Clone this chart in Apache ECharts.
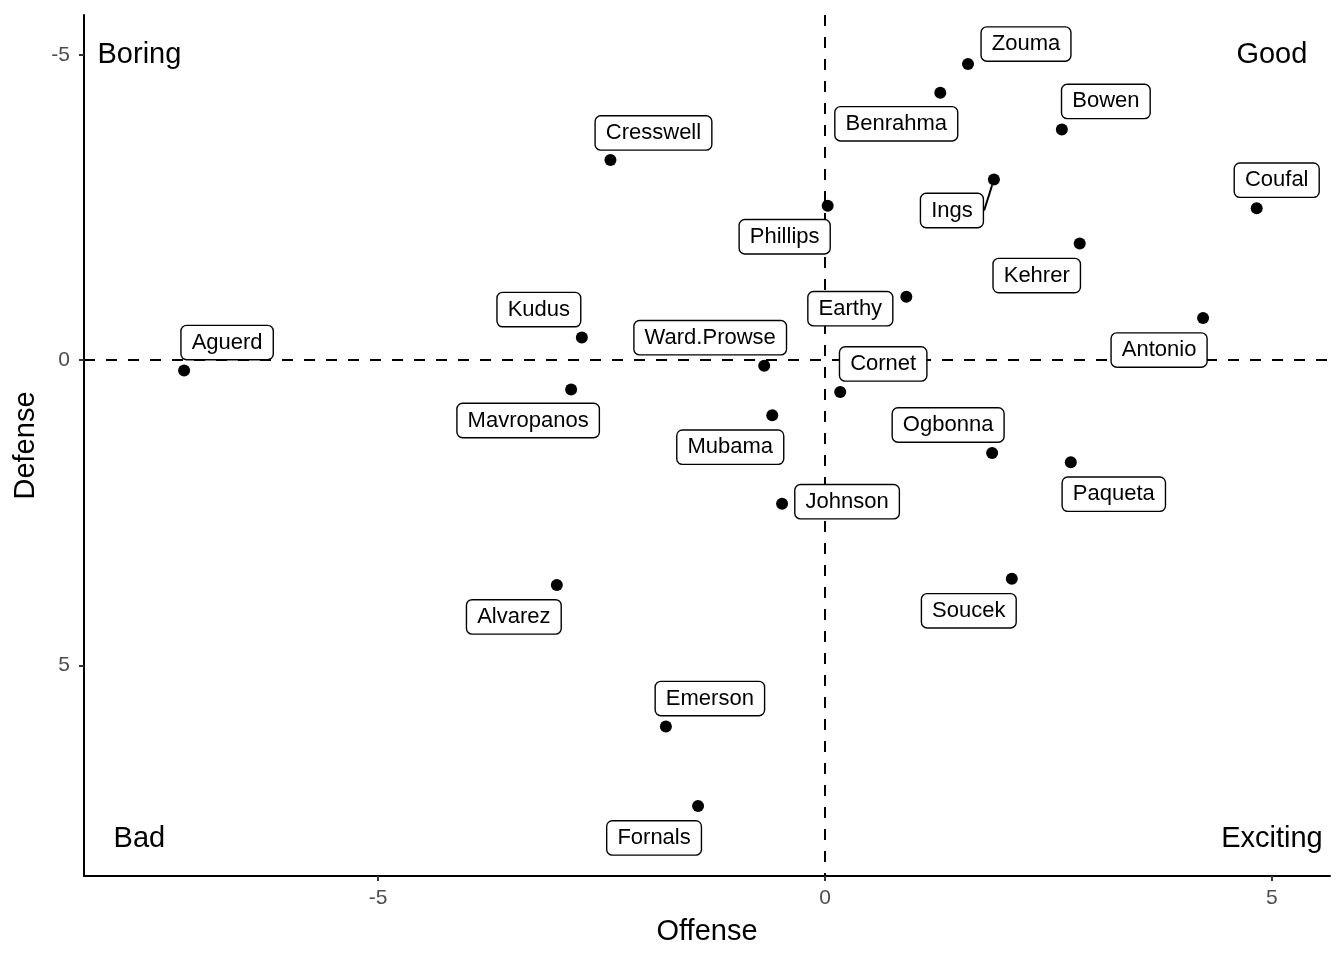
<!DOCTYPE html>
<html><head><meta charset="utf-8">
<script src="https://cdn.jsdelivr.net/npm/echarts@6/dist/echarts.min.js"></script>
<style>html,body{margin:0;padding:0;background:#fff}#c{width:1344px;height:960px}</style>
</head><body><div id="c"></div>
<script>
// ---- data ----
const players = ['Zouma','Benrahma','Bowen','Cresswell','Ings','Phillips','Coufal','Kehrer','Earthy','Antonio','Kudus','Aguerd','Ward.Prowse','Mavropanos','Cornet','Mubama','Ogbonna','Paqueta','Johnson','Alvarez','Soucek','Emerson','Fornals'];
const offense = [1.60, 1.29, 2.65, -2.40, 1.89, 0.03, 4.83, 2.85, 0.91, 4.23, -2.72, -7.17, -0.68, -2.84, 0.17, -0.59, 1.87, 2.75, -0.48, -3.00, 2.09, -1.78, -1.42];
const defense = [-4.85, -4.38, -3.78, -3.28, -2.96, -2.53, -2.49, -1.91, -1.04, -0.69, -0.37, 0.17, 0.09, 0.48, 0.52, 0.90, 1.52, 1.67, 2.35, 3.68, 3.58, 6.00, 7.30];
const quadrantLabels = ['Boring', 'Good', 'Bad', 'Exciting'];
const quadrantOffense = [-7.67, 5, -7.67, 5];
const quadrantDefense = [-5, -5, 7.85, 7.85];
const tickValues = [-5, 0, 5];

// ---- label placement (pixel shifts from the point, layout only) ----
const labelShift = [[58,-20],[-44,31],[44,-28],[43,-27],[-42,31],[-43,31],[20,-28],[-43,32],[-56,12],[-44,32],[-43,-28],[43,-28],[-54,-28],[-43,31],[43,-28],[-42,32],[-44,-28],[43,32],[65,-2],[-43,32],[-43,32],[44,-28],[-44,32]];
const guideLine = ['Ings'];

const FONT = 'Liberation Sans, Arial, Helvetica, sans-serif';
const chart = echarts.init(document.getElementById('c'), null, {renderer: 'canvas'});

const pointData = players.map((p, i) => {
  const item = {name: p, value: [offense[i], defense[i]]};
  if (guideLine.includes(p)) item.labelLine = {show: true, lineStyle: {color: '#000', width: 2}};
  return item;
});
const quadData = quadrantLabels.map((q, i) => ({name: q, value: [quadrantOffense[i], quadrantDefense[i]]}));

const axisCommon = {
  type: 'value',
  splitLine: {show: false},
  axisLine: {show: true, onZero: false, lineStyle: {color: '#000', width: 2}},
  axisTick: {show: true, customValues: tickValues, length: 5, lineStyle: {color: '#333', width: 2}},
  axisLabel: {customValues: tickValues, color: '#4d4d4d', fontSize: 21, fontFamily: FONT},
  nameLocation: 'middle',
  nameTextStyle: {color: '#000', fontSize: 29, fontFamily: FONT}
};

chart.setOption({
  animation: false,
  backgroundColor: '#fff',
  grid: {left: 84, right: 14, top: 15, bottom: 84, containLabel: false},
  xAxis: Object.assign({}, axisCommon, {
    name: 'Offense', nameGap: 41, min: -8.29, max: 5.65,
    axisLabel: Object.assign({}, axisCommon.axisLabel, {margin: 12})
  }),
  yAxis: Object.assign({}, axisCommon, {
    name: 'Defense', nameGap: 42, inverse: true, min: -5.654, max: 8.448,
    axisLabel: Object.assign({}, axisCommon.axisLabel, {margin: 14})
  }),
  series: [
    {
      type: 'scatter', z: 1, data: [], symbolSize: 0,
      markLine: {
        silent: true, z: 1, symbol: 'none', label: {show: false},
        lineStyle: {color: '#000', type: [11, 11], width: 2, opacity: 1},
        data: [{xAxis: 0}, {yAxis: 0}]
      }
    },
    {
      type: 'scatter', z: 3, zlevel: 1, data: pointData, symbolSize: 12,
      itemStyle: {color: '#000', opacity: 1},
      label: {
        show: true, position: 'inside', formatter: '{b}',
        color: '#000', fontSize: 22, fontFamily: FONT,
        backgroundColor: '#fff', borderColor: '#000', borderWidth: 1.4, borderRadius: 5,
        padding: [6, 10, 5, 10]
      },
      labelLine: {show: false},
      labelLayout: function (params) {
        const s = labelShift[params.dataIndex];
        return {dx: s[0], dy: s[1]};
      }
    },
    {
      type: 'scatter', z: 3, zlevel: 1, data: quadData, symbolSize: 0,
      itemStyle: {opacity: 1},
      label: {show: true, position: 'inside', formatter: '{b}', color: '#000', fontSize: 29, fontFamily: FONT}
    }
  ]
});
</script></body></html>
